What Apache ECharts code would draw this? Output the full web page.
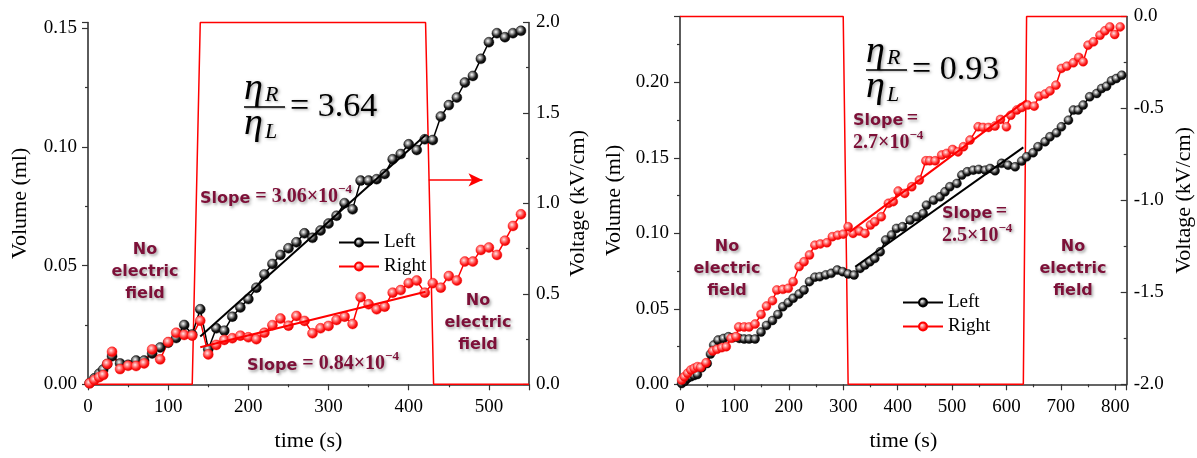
<!DOCTYPE html>
<html><head><meta charset="utf-8">
<script src="https://cdn.jsdelivr.net/npm/echarts@6/dist/echarts.min.js"></script>
<style>html,body{margin:0;padding:0;background:#fff}#c{width:1197px;height:458px}</style>
</head><body><div id="c"></div>
<script>
// ---------- Panel A (left chart) ----------
const timeA = [2,8,14,19,24,30,40,50,60,70,80,90,100,110,120,130,140,150,160,170,180,190,200,210,220,230,240,250,260,270,280,290,300,310,320,330,340,350,360,370,380,390,400,410,420,430,440,450,460,470,480,490,500,510,520,530,540];
const leftA = [0.0005,0.0025,0.0045,0.0062,0.0085,0.0118,0.0088,0.0082,0.0100,0.0100,0.0130,0.0155,0.0175,0.0195,0.0250,0.0210,0.0316,0.0148,0.0236,0.0226,0.0285,0.0324,0.0359,0.0407,0.0463,0.0507,0.0545,0.0573,0.0598,0.0636,0.0617,0.0648,0.0677,0.0710,0.0763,0.0737,0.0858,0.0858,0.0864,0.0886,0.0948,0.0970,0.1011,0.0987,0.1032,0.1029,0.1128,0.1176,0.1208,0.1271,0.1299,0.1371,0.1441,0.1479,0.1462,0.1479,0.1489];
const rightA = [0.0004,0.0018,0.0030,0.0039,0.0086,0.0137,0.0064,0.0078,0.0077,0.0088,0.0147,0.0105,0.0178,0.0217,0.0208,0.0205,0.0268,0.0126,0.0166,0.0187,0.0194,0.0205,0.0198,0.0190,0.0217,0.0249,0.0277,0.0247,0.0288,0.0267,0.0215,0.0236,0.0246,0.0271,0.0285,0.0254,0.0367,0.0337,0.0316,0.0327,0.0386,0.0397,0.0426,0.0437,0.0386,0.0426,0.0407,0.0456,0.0437,0.0517,0.0517,0.0566,0.0576,0.0545,0.0605,0.0667,0.0716];
const fitTimeA = [140,421];
const fitLeftA = [0.0201,0.1050];
const fitRightA = [0.0156,0.0390];
const voltTimeA = [0,130,140,421,431,550];
const voltA = [0,0,2,2,0,0];
const arrowA = [[425,1.13],[492,1.13]];

// ---------- Panel B (right chart) ----------
const timeBL = [3,9,14,20,26,32,40,50,56,62,70,80,89,98,109,118,127,138,149,159,170,180,189,199,208,219,228,238,248,257,268,278,289,299,309,320,331,340,349,358,368,378,389,398,409,423,435,447,453,466,478,487,496,509,518,528,539,549,561,570,579,591,603,616,628,637,649,658,671,680,692,701,714,723,732,741,753,766,775,784,793,802,812];
const leftB = [0.0005,0.002,0.004,0.005,0.0058,0.0065,0.011,0.0138,0.020,0.026,0.0293,0.0304,0.0315,0.0309,0.0304,0.0300,0.0300,0.0300,0.0346,0.0390,0.0423,0.0463,0.0514,0.0541,0.0570,0.0598,0.0625,0.0680,0.0710,0.0713,0.0725,0.0735,0.0757,0.0746,0.0731,0.0724,0.0768,0.0790,0.0812,0.0834,0.0878,0.0956,0.0989,0.1033,0.1044,0.1088,0.1110,0.1132,0.1187,0.1220,0.1242,0.1275,0.1309,0.1331,0.1386,0.1408,0.1419,0.1424,0.1419,0.1430,0.1415,0.1464,0.1452,0.1441,0.1479,0.1507,0.1534,0.1574,0.1607,0.1640,0.1666,0.1706,0.1750,0.1817,0.1817,0.1850,0.1905,0.1927,0.1960,0.1975,0.2011,0.2026,0.2048];
const timeBR = [3,8,14,20,26,32,38,48,60,68,77,85,94,103,108,118,127,138,149,159,170,178,189,199,208,219,228,238,248,258,270,280,290,300,309,318,330,340,350,358,370,383,392,401,413,426,440,452,459,469,481,490,501,511,521,533,548,557,567,579,589,600,608,619,628,639,651,660,671,680,691,701,711,723,733,741,750,760,772,781,790,799,809];
const rightB = [0.0028,0.005,0.0073,0.0095,0.0106,0.0117,0.0113,0.0143,0.0221,0.0232,0.0243,0.0249,0.0305,0.0316,0.0380,0.0380,0.0380,0.0399,0.0463,0.0518,0.0554,0.0625,0.0629,0.0636,0.0680,0.0780,0.0812,0.0857,0.0922,0.0930,0.0938,0.0978,0.0988,0.0995,0.1044,0.1000,0.1015,0.1000,0.1055,0.1077,0.1110,0.1199,0.1210,0.1280,0.1265,0.1309,0.1353,0.1481,0.1481,0.1481,0.1519,0.1530,0.1556,0.1540,0.1574,0.1618,0.1706,0.1702,0.1702,0.1711,0.1755,0.1706,0.1783,0.1817,0.1834,0.1850,0.1843,0.1909,0.1923,0.1944,0.1982,0.2093,0.2108,0.2130,0.2166,0.2137,0.2247,0.2269,0.2313,0.2342,0.2368,0.2318,0.2368];
const fitTimeBL = [322,631];
const fitLeftB = [0.0779,0.1570];
const fitTimeBR = [312,637];
const fitRightB = [0.1010,0.1883];
const voltTimeB = [0,300,309,631,637,821];
const voltB = [0,0,-2,-2,0,0];

const xTicksA = [0,100,200,300,400,500];
const xTicksB = [0,100,200,300,400,500,600,700,800];

// ---------- helpers ----------
const zip = (xs, ys) => xs.map((x, i) => [x, ys[i]]);
const SERIF = 'Liberation Serif';
const MAROON = '#7d1038';
const blackBall = {type:'radial', x:0.4, y:0.38, r:0.62, colorStops:[{offset:0,color:'#ffffff'},{offset:0.3,color:'#9a9a9a'},{offset:0.65,color:'#1a1a1a'},{offset:1,color:'#000000'}]};
const redBall = {type:'radial', x:0.4, y:0.38, r:0.62, colorStops:[{offset:0,color:'#ffe8e8'},{offset:0.3,color:'#ff8a8a'},{offset:0.7,color:'#ff1a1a'},{offset:1,color:'#e00000'}]};

function multipleLabel(step, dec) {
  return v => (Math.abs(v / step - Math.round(v / step)) < 1e-6) ? v.toFixed(dec) : '';
}
const axLine = {show:true, lineStyle:{color:'#333', width:1.6}};
const labelStyle = {color:'#000', fontFamily:SERIF, fontSize:19};
const nameStyle = {color:'#000', fontFamily:SERIF, fontSize:22};

function xAxis(gi, max, ticks) {
  return {type:'value', gridIndex:gi, min:0, max:max, interval:100,
    axisLine:axLine, axisTick:{show:true, length:6, lineStyle:{color:'#333', width:1.2}},
    minorTick:{show:true, splitNumber:2, length:3, lineStyle:{color:'#333', width:1.2}},
    splitLine:{show:false}, minorSplitLine:{show:false},
    axisLabel:Object.assign({margin:13, formatter: v => ticks.includes(v) ? String(v) : ''}, labelStyle),
    name:'time (s)', nameLocation:'middle', nameGap:46, nameTextStyle:nameStyle};
}
function yAxis(gi, min, max, step, dec, pos, name, gap, inside, margin) {
  return {type:'value', gridIndex:gi, min:min, max:max, interval:step, position:pos,
    axisLine:axLine, axisTick:{show:true, inside:inside, length:6, lineStyle:{color:'#333', width:1.2}},
    minorTick:{show:true, splitNumber:2, length:3, lineStyle:{color:'#333', width:1.2}},
    splitLine:{show:false}, minorSplitLine:{show:false},
    axisLabel:Object.assign({margin:margin, formatter: multipleLabel(step, dec)}, labelStyle),
    name:name, nameLocation:'middle', nameRotate:90, nameGap:gap, nameTextStyle:nameStyle};
}
function dataSeries(name, xi, yi, data, ball, col, size) {
  return {name:name, type:'line', xAxisIndex:xi, yAxisIndex:yi, data:data,
    symbol:'circle', symbolSize:size, showSymbol:true,
    itemStyle:{color:ball, borderColor:col, borderWidth:0.4},
    lineStyle:{color:col, width:1.5}, z:4, animation:false};
}
function fitSeries(xi, yi, data, col) {
  return {name:'fit', type:'line', xAxisIndex:xi, yAxisIndex:yi, data:data, symbol:'none',
    lineStyle:{color:col, width:2}, z:5, animation:false, silent:true};
}
function voltSeries(xi, yi, data, extra) {
  return Object.assign({name:'Voltage', type:'line', xAxisIndex:xi, yAxisIndex:yi, data:data, symbol:'none',
    lineStyle:{color:'#ff0000', width:1.5}, z:3, clip:false, animation:false, silent:true}, extra || {});
}

// ---------- annotations ----------
const shadow = {textShadowColor:'rgba(0,0,0,0.35)', textShadowBlur:3, textShadowOffsetX:1.5, textShadowOffsetY:1.5};
function txt(x, y, text, st, align) {
  return {type:'text', x:x, y:y, z:50, style:Object.assign({text:text, align:align||'left', verticalAlign:'middle', fill:'#000'}, st)};
}
function etaFrac(x, yLine, value) {
  const eta = Object.assign({fontFamily:SERIF, fontStyle:'italic', fontSize:38}, shadow);
  const sub = Object.assign({fontFamily:SERIF, fontStyle:'italic', fontSize:22}, shadow);
  return [
    txt(x, yLine - 18, 'η', eta), txt(x + 21, yLine - 12, 'R', sub),
    {type:'line', z:50, shape:{x1:x, y1:yLine, x2:x + 41, y2:yLine}, style:{stroke:'#000', lineWidth:1.5, shadowColor:'rgba(0,0,0,0.3)', shadowBlur:2, shadowOffsetX:1, shadowOffsetY:1}},
    txt(x, yLine + 17, 'η', eta), txt(x + 21, yLine + 25, 'L', sub),
    txt(x + 46, yLine, '= ' + value, Object.assign({fontFamily:SERIF, fontSize:34}, shadow))
  ];
}
const slopeRich = {
  a:Object.assign({fontFamily:'DejaVu Sans', fontWeight:'bold', fontSize:16, fill:MAROON, verticalAlign:'bottom', lineHeight:24}, shadow),
  b:Object.assign({fontFamily:SERIF, fontWeight:'bold', fontSize:20, fill:MAROON, verticalAlign:'bottom', lineHeight:24}, shadow),
  c:Object.assign({fontFamily:SERIF, fontWeight:'bold', fontSize:13, fill:MAROON, verticalAlign:'top', lineHeight:24}, shadow)
};
function slope(x, y, text) {
  return {type:'text', x:x, y:y, z:50, style:{text:text, rich:slopeRich, align:'left', verticalAlign:'middle'}};
}
function noField(cx, y) {
  return {type:'text', x:cx, y:y, z:50, style:Object.assign({text:'No\nelectric\nfield', align:'center', verticalAlign:'middle',
    fontFamily:'DejaVu Sans', fontWeight:'bold', fontSize:16, lineHeight:22, fill:MAROON}, shadow)};
}

const graphics = [].concat(
  etaFrac(244, 107, '3.64'),
  etaFrac(866, 70, '0.93'),
  [
    slope(200, 195, '{a|Slope}{b| = 3.06×10}{c|−4}'),
    slope(247, 362, '{a|Slope}{b| = 0.84×10}{c|−4}'),
    slope(853, 129, '{a|Slope} {b|=}\n{b|2.7×10}{c|−4}'),
    slope(942, 222, '{a|Slope} {b|=}\n{b|2.5×10}{c|−4}'),
    noField(145, 272), noField(478, 323),
    noField(727, 269), noField(1073, 269)
  ]
);

const option = {
  backgroundColor:'#fff',
  animation:false,
  grid:[
    {left:88, right:1197-529, top:22.5, bottom:458-384.3},
    {left:680, right:1197-1126.7, top:16.5, bottom:458-384.3}
  ],
  xAxis:[xAxis(0, 550, xTicksA), xAxis(1, 821, xTicksB)],
  yAxis:[
    yAxis(0, 0, 0.1524, 0.05, 2, 'left', 'Volume (ml)', 57, false, 11),
    yAxis(0, 0, 2, 0.5, 1, 'right', 'Voltage (kV/cm)', 38, true, 7),
    yAxis(1, 0, 0.2437, 0.05, 2, 'left', 'Volume (ml)', 55, false, 11),
    yAxis(1, -2, 0, 0.5, 1, 'right', 'Voltage (kV/cm)', 47, true, 7)
  ],
  legend:[
    {data:['Left','Right'], orient:'vertical', left:333, top:228, itemWidth:40, itemHeight:10, itemGap:5,
     textStyle:{fontFamily:SERIF, fontSize:19, color:'#000'}},
    {data:['Left','Right'], orient:'vertical', left:897, top:288, itemWidth:40, itemHeight:10, itemGap:5,
     textStyle:{fontFamily:SERIF, fontSize:19, color:'#000'}}
  ],
  series:[
    voltSeries(0, 1, zip(voltTimeA, voltA), {markLine:{silent:true, symbol:['none','arrow'], symbolSize:[10,14], animation:false,
      lineStyle:{color:'#ff0000', width:1.5, type:'solid'}, label:{show:false},
      data:[[{coord:arrowA[0]},{coord:arrowA[1]}]]}}),
    dataSeries('Left', 0, 0, zip(timeA, leftA), blackBall, '#000', 10),
    dataSeries('Right', 0, 0, zip(timeA, rightA), redBall, '#ff0000', 10),
    fitSeries(0, 0, zip(fitTimeA, fitLeftA), '#000'),
    fitSeries(0, 0, zip(fitTimeA, fitRightA), '#ff0000'),
    voltSeries(1, 3, zip(voltTimeB, voltB)),
    dataSeries('Left', 1, 2, zip(timeBL, leftB), blackBall, '#000', 9),
    dataSeries('Right', 1, 2, zip(timeBR, rightB), redBall, '#ff0000', 9),
    fitSeries(1, 2, zip(fitTimeBL, fitLeftB), '#000'),
    fitSeries(1, 2, zip(fitTimeBR, fitRightB), '#ff0000')
  ],
  graphic:graphics
};
const chart = echarts.init(document.getElementById('c'), null, {renderer:'canvas'});
chart.setOption(option);
</script></body></html>
